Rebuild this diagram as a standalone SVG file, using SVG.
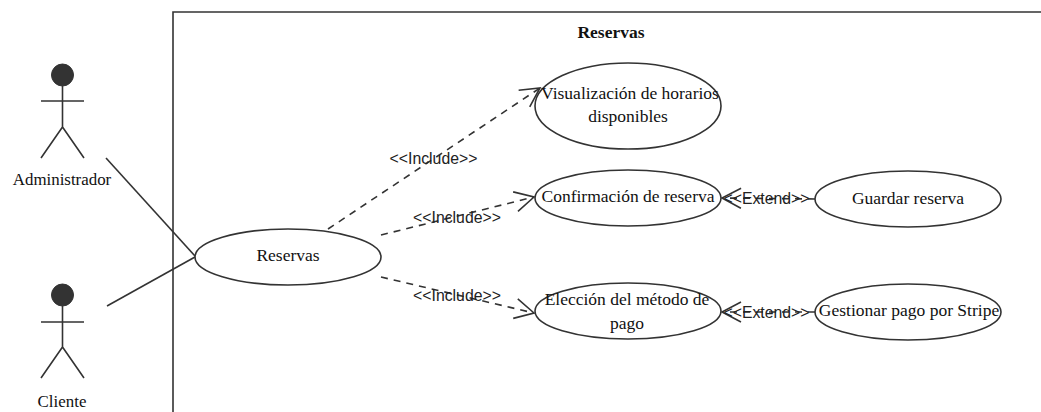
<svg xmlns="http://www.w3.org/2000/svg" width="1041" height="412" viewBox="0 0 1041 412">
<defs>
<style>
.s{fill:none;stroke:#333;stroke-width:1.6}
.d{fill:none;stroke:#333;stroke-width:1.6;stroke-dasharray:7 6}
.u{fill:#fff;stroke:#333;stroke-width:1.6}
.h{fill:#333;stroke:#333;stroke-width:1}
.t{font-family:"Liberation Serif",serif;font-size:17.5px;fill:#111;text-anchor:middle}
.a{font-size:16.900px}
.l{font-family:"Liberation Sans",sans-serif;font-size:15.8px;fill:#222;text-anchor:middle}
</style>
<marker id="a" markerUnits="userSpaceOnUse" markerWidth="24" markerHeight="28" refX="22" refY="14" orient="auto"><path d="M3 4L22 14L3 24" fill="none" stroke="#333" stroke-width="1.6"/></marker>
</defs>
<rect width="1041" height="412" fill="#fff"/>
<g id="boundary"><path class="s" d="M173 412V12H1041"/><text class="t" x="611" y="38" font-weight="bold">Reservas</text></g>
<g id="connectors">
<path class="s" d="M106 158L195 256"/>
<path class="s" d="M107 306L195 257"/>
<path class="d" d="M328 229L540 88" marker-end="url(#a)"/>
<path class="d" d="M381 235L534 197" marker-end="url(#a)"/>
<path class="d" d="M381 277L534 313" marker-end="url(#a)"/>
<path class="d" d="M815 199L722 198" marker-end="url(#a)"/>
<path class="d" d="M815 312L722 312" marker-end="url(#a)"/>
<text class="l" x="433.500" y="164">&lt;&lt;Include&gt;&gt;</text>
<text class="l" x="457" y="223">&lt;&lt;Include&gt;&gt;</text>
<text class="l" x="457" y="301">&lt;&lt;Include&gt;&gt;</text>
<text class="l" x="766.500" y="204">&lt;&lt;Extend&gt;&gt;</text>
<text class="l" x="766.500" y="318">&lt;&lt;Extend&gt;&gt;</text>
</g>
<g id="actor-administrador"><circle class="h" cx="62.500" cy="75" r="11"/><path class="s" d="M62.500 86V127M41 101H84M62.500 127L41 158M62.500 127L84 158"/><text class="t a" x="62" y="185">Administrador</text></g>
<g id="actor-cliente"><circle class="h" cx="62.500" cy="295" r="11"/><path class="s" d="M62.500 306V347M41 322H84M62.500 347L41 378M62.500 347L84 378"/><text class="t a" x="62" y="407">Cliente</text></g>
<g id="uc-reservas"><ellipse class="u" cx="288" cy="257" rx="93" ry="28"/><text class="t" x="288" y="261">Reservas</text></g>
<g id="uc-visualizacion"><ellipse class="u" cx="628" cy="106" rx="93" ry="43"/><text class="t" x="630" y="99">Visualización de horarios</text><text class="t" x="628" y="122">disponibles</text></g>
<g id="uc-confirmacion"><ellipse class="u" cx="628" cy="198" rx="93" ry="28"/><text class="t" x="628" y="202">Confirmación de reserva</text></g>
<g id="uc-eleccion"><ellipse class="u" cx="628" cy="311" rx="93" ry="28"/><text class="t" x="627" y="305">Elección del método de</text><text class="t" x="627" y="329">pago</text></g>
<g id="uc-guardar"><ellipse class="u" cx="908" cy="199" rx="93" ry="28"/><text class="t" x="908" y="204">Guardar reserva</text></g>
<g id="uc-gestionar"><ellipse class="u" cx="908" cy="312" rx="93" ry="28"/><text class="t" x="909" y="316">Gestionar pago por Stripe</text></g>
</svg>
